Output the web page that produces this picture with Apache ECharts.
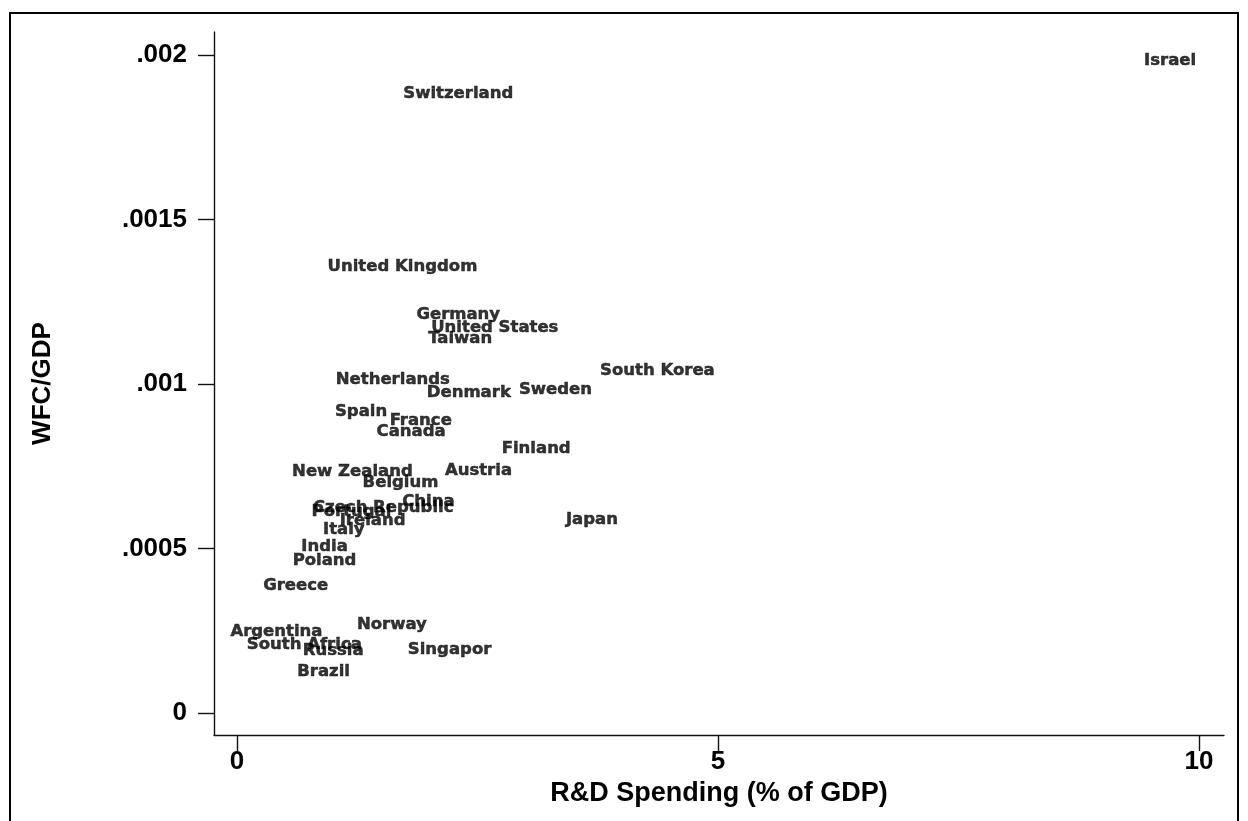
<!DOCTYPE html>
<html>
<head>
<meta charset="utf-8">
<title>WFC/GDP vs R&amp;D Spending</title>
<script src="https://cdn.jsdelivr.net/npm/echarts@6/dist/echarts.min.js"></script>
<style>
  html, body { margin: 0; padding: 0; background: #ffffff; }
  #frame {
    position: absolute; left: 9px; top: 12px; width: 1230px; height: 900px;
    border: 2px solid #000; box-sizing: border-box; background: #fff;
  }
  #chart { position: absolute; left: 0; top: 0; width: 1248px; height: 821px; }
</style>
</head>
<body>
<div id="frame"></div>
<div id="chart"></div>
<script>
// Country labels, R&D spending (% of GDP) and WFC/GDP
const countries = [
  'Israel', 'Switzerland', 'United Kingdom', 'Germany', 'United States', 'Taiwan',
  'South Korea', 'Netherlands', 'Denmark', 'Sweden', 'Spain', 'France', 'Canada',
  'Finland', 'New Zealand', 'Austria', 'Belgium', 'China', 'Czech Republic',
  'Portugal', 'Ireland', 'Italy', 'Japan', 'India', 'Poland', 'Greece',
  'Argentina', 'Norway', 'South Africa', 'Russia', 'Singapor', 'Brazil'
];
const rdSpending = [
  9.70, 2.30, 1.72, 2.30, 2.68, 2.32,
  4.37, 1.62, 2.41, 3.31, 1.29, 1.91, 1.81,
  3.11, 1.20, 2.51, 1.70, 1.99, 1.52,
  1.19, 1.41, 1.11, 3.69, 0.91, 0.91, 0.61,
  0.41, 1.61, 0.70, 1.00, 2.21, 0.90
];
const wfcShare = [
  0.001982, 0.001881, 0.001356, 0.001210, 0.001170, 0.001137,
  0.001040, 0.001012, 0.000973, 0.000982, 0.000915, 0.000888, 0.000854,
  0.000802, 0.000733, 0.000736, 0.000699, 0.000641, 0.000623,
  0.000611, 0.000584, 0.000556, 0.000587, 0.000505, 0.000462, 0.000386,
  0.000246, 0.000267, 0.000207, 0.000188, 0.000191, 0.000125
];
const xTicks = [0, 5, 10];
const yTicks = [0, 0.0005, 0.001, 0.0015, 0.002];

const points = countries.map((name, i) => ({ name: name, value: [rdSpending[i], wfcShare[i]] }));

const axisFont = { fontFamily: '"Liberation Sans", Arial, sans-serif', fontWeight: 'bold', color: '#000' };
const axisLineStyle = { color: '#111', width: 1.4 };

const chart = echarts.init(document.getElementById('chart'), null, { renderer: 'canvas' });
chart.setOption({
  animation: false,
  backgroundColor: 'transparent',
  grid: { left: 214, top: 32, width: 1010, height: 703, containLabel: false, outerBoundsMode: 'none' },
  xAxis: {
    type: 'value',
    min: -0.239, max: 10.26,
    name: 'R&D Spending (% of GDP)',
    nameLocation: 'middle',
    nameGap: 40,
    nameTextStyle: Object.assign({ fontSize: 27 }, axisFont),
    axisLine: { show: true, onZero: false, lineStyle: axisLineStyle },
    axisTick: { show: true, length: 16, customValues: xTicks, lineStyle: axisLineStyle },
    axisLabel: Object.assign({ fontSize: 26, margin: 14, customValues: xTicks,
      formatter: v => String(v) }, axisFont),
    splitLine: { show: false }
  },
  yAxis: {
    type: 'value',
    min: -0.0000669, max: 0.002070,
    name: 'WFC/GDP',
    nameLocation: 'middle',
    nameRotate: 90,
    nameGap: 158,
    nameTextStyle: Object.assign({ fontSize: 26 }, axisFont),
    axisLine: { show: true, onZero: false, lineStyle: axisLineStyle },
    axisTick: { show: true, length: 16, customValues: yTicks, lineStyle: axisLineStyle },
    axisLabel: Object.assign({ fontSize: 26, margin: 27, customValues: yTicks,
      formatter: v => (v === 0 ? '0' : String(+v.toFixed(6)).replace(/^0/, '')) }, axisFont),
    splitLine: { show: false }
  },
  series: [{
    type: 'scatter',
    data: points,
    symbol: 'circle',
    symbolSize: 1,
    itemStyle: { color: 'rgba(0,0,0,0)' },
    label: {
      show: true,
      position: 'inside',
      formatter: '{b}',
      fontFamily: '"DejaVu Sans", Verdana, sans-serif',
      fontWeight: 'bold',
      fontSize: 16.5,
      color: '#000',
      textBorderColor: '#000',
      textBorderWidth: 0.5
    },
    emphasis: { disabled: true },
    silent: true
  }]
});
</script>
</body>
</html>
